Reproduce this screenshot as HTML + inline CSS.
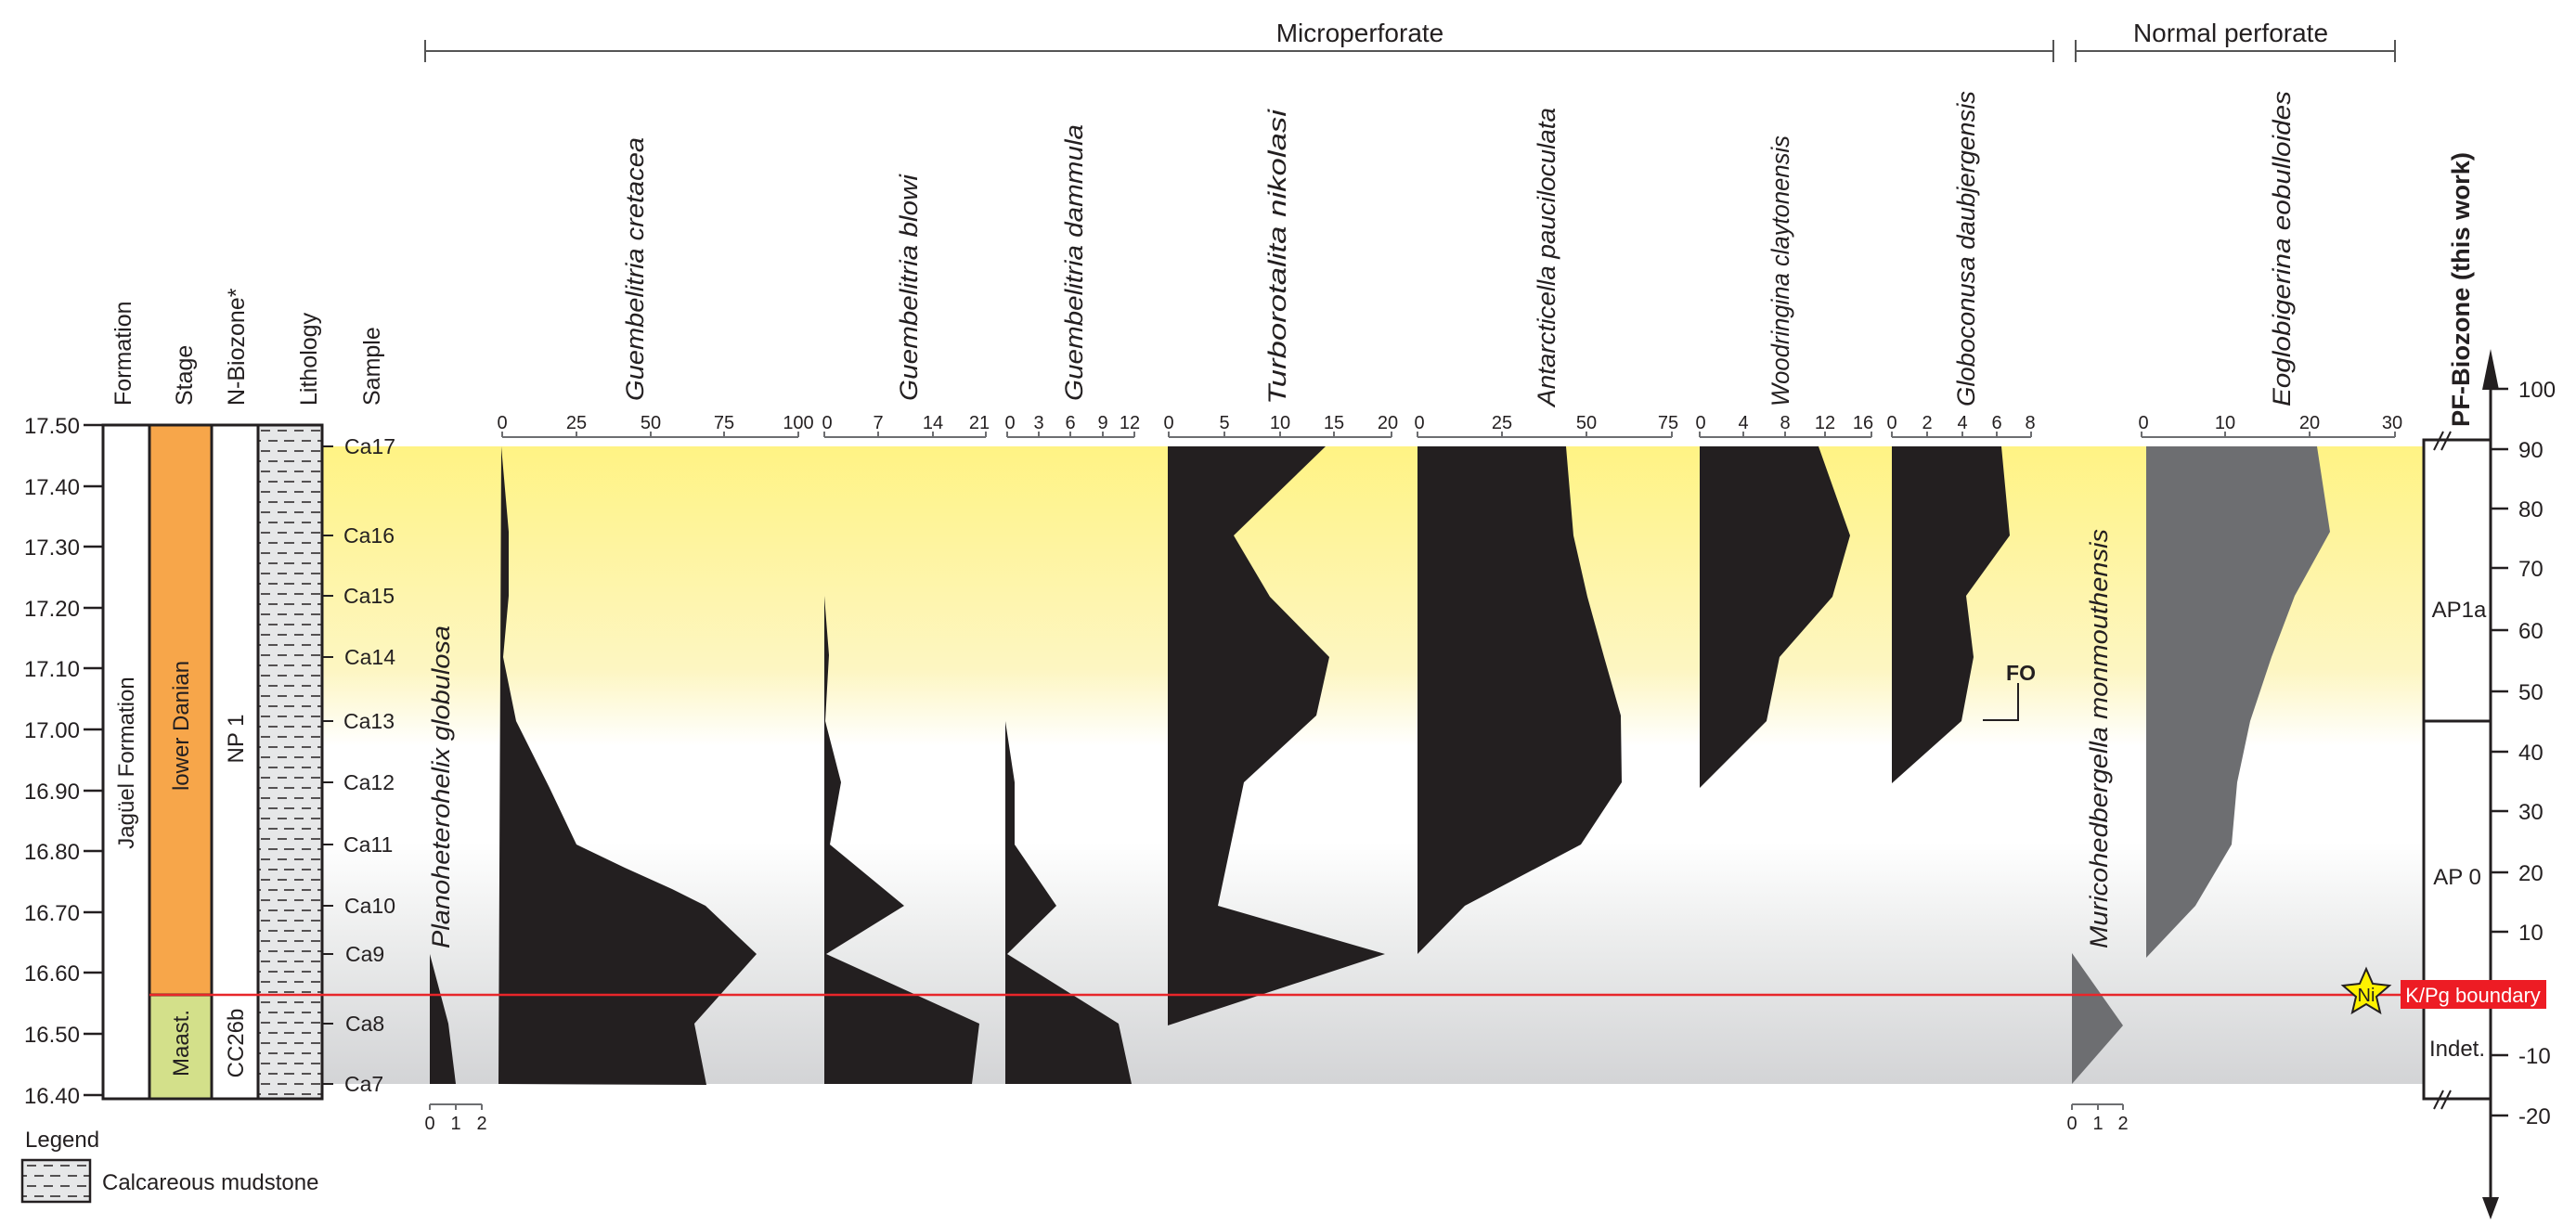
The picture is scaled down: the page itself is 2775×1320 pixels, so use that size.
<!DOCTYPE html>
<html><head><meta charset="utf-8"><style>html,body{margin:0;padding:0;background:#fff}svg{display:block}</style></head>
<body>
<svg xmlns="http://www.w3.org/2000/svg" width="2775" height="1320" viewBox="0 0 2775 1320" font-family="Liberation Sans, Arial, sans-serif">
<defs>
<linearGradient id="band" x1="0" y1="481" x2="0" y2="1168" gradientUnits="userSpaceOnUse">
<stop offset="0" stop-color="#fff384"/>
<stop offset="0.35" stop-color="#fdf6c2"/>
<stop offset="0.47" stop-color="#ffffff"/>
<stop offset="0.62" stop-color="#ffffff"/>
<stop offset="0.78" stop-color="#ebecec"/>
<stop offset="1" stop-color="#d3d4d6"/>
</linearGradient>
<pattern id="mud" x="278" y="458" width="36" height="22" patternUnits="userSpaceOnUse">
<rect width="36" height="22" fill="#e6e7e8"/>
<path d="M3 6h10M21 6h10M11 17h10M28 17h8M0 17h3" stroke="#231f20" stroke-width="1.6"/>
</pattern>
</defs>

<rect x="347" y="481" width="2264" height="687" fill="url(#band)"/>

<g stroke="#555" stroke-width="2" fill="none">
<path d="M458 55H2212M458 43V67M2212 43V67"/>
<path d="M2236 55H2580M2236 43V67M2580 43V67"/>
</g>
<text x="1465" y="45" font-size="28" text-anchor="middle" fill="#231f20">Microperforate</text>
<text x="2403" y="45" font-size="28" text-anchor="middle" fill="#231f20">Normal perforate</text>

<g font-size="25" fill="#231f20">
<text transform="translate(141,437) rotate(-90)">Formation</text>
<text transform="translate(207,437) rotate(-90)">Stage</text>
<text transform="translate(263,437) rotate(-90)">N-Biozone*</text>
<text transform="translate(341,437) rotate(-90)">Lithology</text>
<text transform="translate(409,437) rotate(-90)">Sample</text>
</g>

<g font-size="27" font-style="italic" fill="#231f20">
<text transform="translate(693,432) rotate(-90)" textLength="284" lengthAdjust="spacingAndGlyphs">Guembelitria cretacea</text>
<text transform="translate(988,432) rotate(-90)" textLength="244" lengthAdjust="spacingAndGlyphs">Guembelitria blowi</text>
<text transform="translate(1166,432) rotate(-90)" textLength="298" lengthAdjust="spacingAndGlyphs">Guembelitria dammula</text>
<text transform="translate(1385,436) rotate(-90)" textLength="318" lengthAdjust="spacingAndGlyphs">Turborotalita nikolasi</text>
<text transform="translate(1675,438) rotate(-90)" textLength="322" lengthAdjust="spacingAndGlyphs">Antarcticella pauciloculata</text>
<text transform="translate(1927,438) rotate(-90)" textLength="292" lengthAdjust="spacingAndGlyphs">Woodringina claytonensis</text>
<text transform="translate(2127,438) rotate(-90)" textLength="340" lengthAdjust="spacingAndGlyphs">Globoconusa daubjergensis</text>
<text transform="translate(2467,438) rotate(-90)" textLength="340" lengthAdjust="spacingAndGlyphs">Eoglobigerina eobulloides</text>
<text transform="translate(484,1022) rotate(-90)" textLength="348" lengthAdjust="spacingAndGlyphs">Planoheterohelix globulosa</text>
<text transform="translate(2270,1022) rotate(-90)" textLength="452" lengthAdjust="spacingAndGlyphs">Muricohedbergella monmouthensis</text>
</g>
<text transform="translate(2660,460) rotate(-90)" font-size="27" font-weight="bold" fill="#231f20" textLength="296" lengthAdjust="spacingAndGlyphs">PF-Biozone (this work)</text>

<g stroke="#6d6e71" stroke-width="2" fill="none">
<path d="M541 471H860M541 465V471M621 465V471M701 465V471M780 465V471M860 465V471"/>
<path d="M888 471H1062M888 465V471M946 465V471M1005 465V471M1062 465V471"/>
<path d="M1085 471H1222M1085 465V471M1119 465V471M1153 465V471M1188 465V471M1222 465V471"/>
<path d="M1259 471H1499M1259 465V471M1319 465V471M1379 465V471M1437 465V471M1499 465V471"/>
<path d="M1527 471H1801M1527 465V471M1618 465V471M1709 465V471M1801 465V471"/>
<path d="M1831 471H2016M1831 465V471M1878 465V471M1923 465V471M1966 465V471M2016 465V471"/>
<path d="M2038 471H2188M2038 465V471M2076 465V471M2114 465V471M2151 465V471M2188 465V471"/>
<path d="M2307 471H2580M2307 465V471M2397 465V471M2488 465V471M2580 465V471"/>
<path d="M463 1190H519M463 1190V1196M491 1190V1196M519 1190V1196"/>
<path d="M2232 1190H2287M2232 1190V1196M2260 1190V1196M2287 1190V1196"/>
</g>
<g font-size="20" fill="#231f20" text-anchor="middle">
<text x="541" y="462">0</text><text x="621" y="462">25</text><text x="701" y="462">50</text><text x="780" y="462">75</text><text x="860" y="462">100</text>
<text x="891" y="462">0</text><text x="946" y="462">7</text><text x="1005" y="462">14</text><text x="1055" y="462">21</text>
<text x="1088" y="462">0</text><text x="1119" y="462">3</text><text x="1153" y="462">6</text><text x="1188" y="462">9</text><text x="1217" y="462">12</text>
<text x="1259" y="462">0</text><text x="1319" y="462">5</text><text x="1379" y="462">10</text><text x="1437" y="462">15</text><text x="1495" y="462">20</text>
<text x="1529" y="462">0</text><text x="1618" y="462">25</text><text x="1709" y="462">50</text><text x="1797" y="462">75</text>
<text x="1832" y="462">0</text><text x="1878" y="462">4</text><text x="1923" y="462">8</text><text x="1966" y="462">12</text><text x="2007" y="462">16</text>
<text x="2038" y="462">0</text><text x="2076" y="462">2</text><text x="2114" y="462">4</text><text x="2151" y="462">6</text><text x="2187" y="462">8</text>
<text x="2309" y="462">0</text><text x="2397" y="462">10</text><text x="2488" y="462">20</text><text x="2577" y="462">30</text>
<text x="463" y="1217">0</text><text x="491" y="1217">1</text><text x="519" y="1217">2</text>
<text x="2232" y="1217">0</text><text x="2260" y="1217">1</text><text x="2287" y="1217">2</text>
</g>

<g fill="#231f20">
<polygon points="463,1028 483,1103 491,1168 463,1168"/>
<polygon points="540,481 548,573 548,642 542,708 556,777 592,849 621,910 673,935 724,958 760,976 815,1028 748,1103 761,1169 537,1168"/>
<polygon points="888,642 893,706 889,777 906,843 894,910 974,976 890,1028 1055,1103 1047,1168 888,1168"/>
<polygon points="1083,777 1093,843 1093,910 1138,976 1085,1028 1205,1103 1219,1168 1083,1168"/>
<polygon points="1258,481 1428,481 1329,577 1368,643 1432,708 1418,771 1340,843 1312,976 1492,1028 1258,1105"/>
<polygon points="1527,481 1687,481 1695,577 1710,643 1728,708 1746,771 1747,843 1703,910 1578,976 1527,1028"/>
<polygon points="1831,481 1959,481 1993,577 1974,643 1917,708 1903,777 1831,849"/>
<polygon points="2038,481 2156,481 2165,577 2118,642 2126,708 2113,777 2038,844"/>
</g>
<g fill="#6d6e71">
<polygon points="2232,1027 2287,1105 2232,1168"/>
<polygon points="2312,481 2496,481 2510,573 2472,642 2447,708 2424,777 2410,843 2404,910 2365,976 2312,1032"/>
</g>

<text x="2177" y="733" font-size="23" font-weight="bold" fill="#231f20" text-anchor="middle">FO</text>
<path d="M2174 736V776H2136" stroke="#231f20" stroke-width="2" fill="none"/>

<rect x="111" y="458" width="50" height="726" fill="#fff" stroke="#231f20" stroke-width="3"/>
<rect x="161" y="458" width="67" height="614" fill="#f7a64a" stroke="#231f20" stroke-width="3"/>
<rect x="161" y="1072" width="67" height="112" fill="#d3e08a" stroke="#231f20" stroke-width="3"/>
<rect x="228" y="458" width="50" height="726" fill="#fff" stroke="#231f20" stroke-width="3"/>
<rect x="278" y="458" width="69" height="726" fill="url(#mud)" stroke="#231f20" stroke-width="3"/>
<g font-size="24" fill="#231f20" text-anchor="middle">
<text transform="translate(144,822) rotate(-90)">Jagüel Formation</text>
<text transform="translate(203,782) rotate(-90)">lower Danian</text>
<text transform="translate(262,796) rotate(-90)">NP 1</text>
<text transform="translate(203,1124) rotate(-90)">Maast.</text>
<text transform="translate(262,1124) rotate(-90)">CC26b</text>
</g>

<g stroke="#231f20" stroke-width="2.5">
<path d="M90 458H111M90 524H111M90 589H111M90 655H111M90 720H111M90 786H111M90 852H111M90 917H111M90 983H111M90 1048H111M90 1114H111M90 1180H111"/>
</g>
<g font-size="24" fill="#231f20" text-anchor="end">
<text x="86" y="467">17.50</text><text x="86" y="533">17.40</text><text x="86" y="598">17.30</text><text x="86" y="664">17.20</text>
<text x="86" y="729">17.10</text><text x="86" y="795">17.00</text><text x="86" y="861">16.90</text><text x="86" y="926">16.80</text>
<text x="86" y="992">16.70</text><text x="86" y="1057">16.60</text><text x="86" y="1123">16.50</text><text x="86" y="1189">16.40</text>
</g>

<g stroke="#231f20" stroke-width="2">
<path d="M347 481H359M347 577H359M347 642H359M347 708H359M347 777H359M347 843H359M347 910H359M347 976H359M347 1028H359M347 1103H359M347 1168H359"/>
</g>
<g font-size="23" fill="#231f20">
<text x="371" y="489">Ca17</text><text x="370" y="585">Ca16</text><text x="370" y="650">Ca15</text><text x="371" y="716">Ca14</text>
<text x="370" y="785">Ca13</text><text x="370" y="851">Ca12</text><text x="370" y="918">Ca11</text><text x="371" y="984">Ca10</text>
<text x="372" y="1036">Ca9</text><text x="372" y="1111">Ca8</text><text x="371" y="1176">Ca7</text>
</g>

<path d="M161 1072H2586" stroke="#e8262a" stroke-width="2.5"/>

<rect x="2611" y="474" width="72" height="710" fill="#fff" stroke="#231f20" stroke-width="3"/>
<path d="M2611 777H2683" stroke="#231f20" stroke-width="3"/>
<g stroke="#231f20" stroke-width="2">
<path d="M2622 485L2632 465M2630 485L2640 465M2622 1195L2632 1175M2630 1195L2640 1175"/>
</g>
<path d="M2683 415V1290" stroke="#231f20" stroke-width="3"/>
<polygon points="2683,376 2674,420 2692,420" fill="#231f20"/>
<polygon points="2683,1314 2674,1290 2692,1290" fill="#231f20"/>
<g stroke="#231f20" stroke-width="2.5">
<path d="M2683 419H2702M2683 484H2702M2683 548H2702M2683 612H2702M2683 679H2702M2683 745H2702M2683 810H2702M2683 874H2702M2683 940H2702M2683 1004H2702M2683 1137H2702M2683 1202H2702"/>
</g>
<g font-size="24" fill="#231f20">
<text x="2713" y="428">100</text><text x="2713" y="493">90</text><text x="2713" y="557">80</text><text x="2713" y="621">70</text>
<text x="2713" y="688">60</text><text x="2713" y="754">50</text><text x="2713" y="819">40</text><text x="2713" y="883">30</text>
<text x="2713" y="949">20</text><text x="2713" y="1013">10</text><text x="2713" y="1146">-10</text><text x="2713" y="1211">-20</text>
</g>
<g font-size="24" fill="#231f20" text-anchor="middle">
<text x="2649" y="665">AP1a</text>
<text x="2647" y="953">AP 0</text>
<text x="2647" y="1138">Indet.</text>
</g>

<rect x="2586" y="1056" width="157" height="31" fill="#ed1c24"/>
<text x="2664" y="1080" font-size="22" fill="#fff" text-anchor="middle">K/Pg boundary</text>
<polygon points="2549,1044 2556,1060 2574,1062 2560,1074 2564,1091 2549,1082 2534,1091 2538,1074 2524,1062 2542,1060" fill="#fff200" stroke="#231f20" stroke-width="2"/>
<text x="2549" y="1079" font-size="20" fill="#231f20" text-anchor="middle">Ni</text>

<text x="27" y="1236" font-size="24" fill="#231f20">Legend</text>
<rect x="24" y="1250" width="73" height="45" fill="url(#mud)" stroke="#231f20" stroke-width="2.5"/>
<text x="110" y="1282" font-size="24" fill="#231f20">Calcareous mudstone</text>
</svg>
</body></html>
